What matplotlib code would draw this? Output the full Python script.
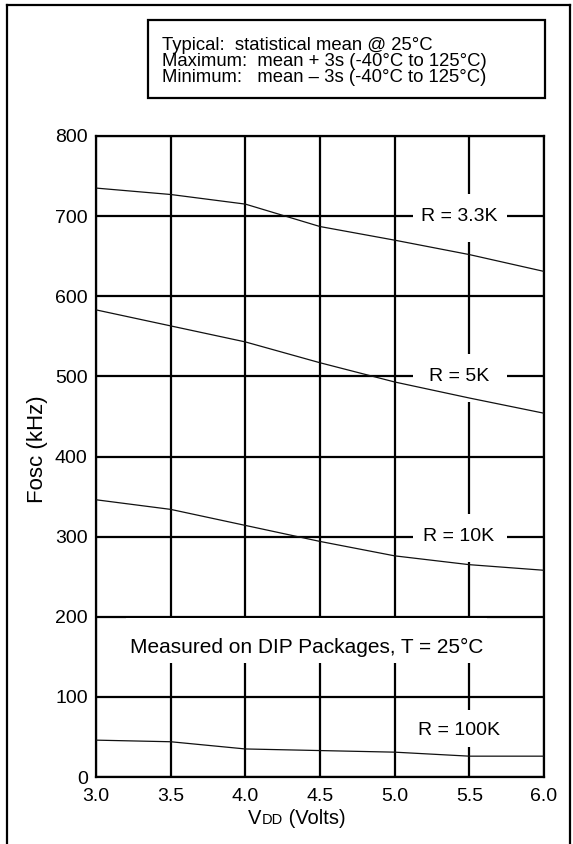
import matplotlib
matplotlib.use("Agg")
import matplotlib.pyplot as plt
from matplotlib.patches import Rectangle
from matplotlib.lines import Line2D
from matplotlib.offsetbox import TextArea, HPacker, AnchoredOffsetbox

plt.rcParams['font.family'] = ['Liberation Sans', 'DejaVu Sans']

# supply voltage (V)
vdd = [3.0, 3.5, 4.0, 4.5, 5.0, 5.5, 6.0]

# typical oscillator frequency (kHz) per resistor value
f_3k3 = [735, 727, 715, 687, 670, 652, 631]
f_5k = [583, 563, 543, 517, 493, 473, 454]
f_10k = [346, 334, 314, 294, 276, 265, 258]
f_100k = [46, 44, 35, 33, 31, 26, 26]

curve_labels = ["R = 3.3K", "R = 5K", "R = 10K", "R = 100K"]
label_y = [700, 500, 300, 58]

note_lines = [
    "Typical:  statistical mean @ 25°C",
    "Maximum:  mean + 3s (-40°C to 125°C)",
    "Minimum:   mean \u2013 3s (-40°C to 125°C)",
]

W, H = 573, 844
fig = plt.figure(figsize=(W / 100, H / 100), dpi=100)
ax = fig.add_axes([96 / W, 1 - 777 / H, (544 - 96) / W, (777 - 136) / H])

ax.set_xlim(3.0, 6.0)
ax.set_ylim(0, 800)
ax.set_xticks(vdd)
ax.set_xticklabels(["%.1f" % v for v in vdd])
ax.set_yticks(range(0, 801, 100))
ax.tick_params(length=0, labelsize=14, pad=6)
ax.tick_params(axis='x', pad=8)
ax.set_axisbelow(True)
ax.grid(True, color='black', linewidth=1.6)
for s in ax.spines.values():
    s.set_linewidth(1.6)

for f in [f_3k3, f_5k, f_10k, f_100k]:
    ax.plot(vdd, f, color='#111111', linewidth=0.9, zorder=3)

# white patches behind the curve labels
for lab, y in zip(curve_labels, label_y):
    if lab == "R = 100K":
        ax.add_patch(Rectangle((5.12, 37), 0.63, 46, facecolor='white', edgecolor='none', zorder=1))
    else:
        ax.add_patch(Rectangle((5.12, y - 32), 0.63, 60, facecolor='white', edgecolor='none', zorder=1))
    ax.text(5.43, y, lab, fontsize=14, ha='center', va='center', zorder=4)

ax.add_patch(Rectangle((3.2, 142), 2.42, 56, facecolor='white', edgecolor='none', zorder=1))
ax.text(4.41, 162, "Measured on DIP Packages, T = 25°C", fontsize=15,
        ha='center', va='center', zorder=4)

ax.set_ylabel("Fosc (kHz)", fontsize=16)
ax.yaxis.set_label_coords(-0.107, 0.512)

# x label with small-caps "DD"
parts = [TextArea("V", textprops=dict(fontsize=14.5)),
         TextArea("DD", textprops=dict(fontsize=10.5)),
         TextArea(" (Volts)", textprops=dict(fontsize=14.5))]
box = HPacker(children=parts, align="baseline", pad=0, sep=0)
anch = AnchoredOffsetbox(loc='center', child=box, frameon=False, pad=0,
                         bbox_to_anchor=(297 / W, 1 - 818 / H),
                         bbox_transform=fig.transFigure, borderpad=0)
fig.add_artist(anch)

# note box at the top
fig.add_artist(Rectangle((148 / W, 1 - 98 / H), (545 - 148) / W, (98 - 20) / H,
                         transform=fig.transFigure, facecolor='white',
                         edgecolor='black', linewidth=1.6))
for i, line in enumerate(note_lines):
    fig.text(162 / W, 1 - (45 + 16.5 * i) / H, line, fontsize=13.3, va='center', ha='left')

# page frame (open at the bottom)
fr = dict(color='black', linewidth=1.6, transform=fig.transFigure)
fig.add_artist(Line2D([7 / W, 7 / W], [0, 1 - 5 / H], **fr))
fig.add_artist(Line2D([7 / W, 570 / W], [1 - 5 / H, 1 - 5 / H], **fr))
fig.add_artist(Line2D([570 / W, 570 / W], [0, 1 - 5 / H], **fr))

fig.savefig("out.png", dpi=100)
